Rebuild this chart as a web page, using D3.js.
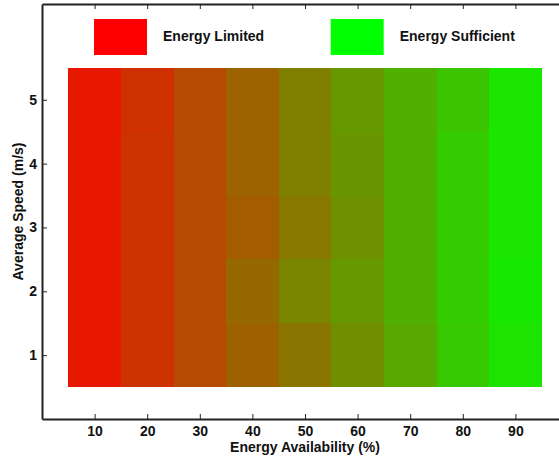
<!DOCTYPE html>
<html>
<head>
<meta charset="utf-8">
<script src="https://cdn.jsdelivr.net/npm/d3@7"></script>
<style>
  body { margin: 0; background: #fff; }
  svg { display: block; font-family: "Liberation Sans", Arial, sans-serif; font-weight: bold; }
</style>
</head>
<body>
<div id="chart"></div>
<script>
// Energy availability (%) along x, average speed (m/s) along y
var availability = [10, 20, 30, 40, 50, 60, 70, 80, 90];
var speeds = [1, 2, 3, 4, 5];

// fraction "energy sufficient" per cell, one row per speed (1..5)
var sufficiency = [
  [0.09, 0.20, 0.29, 0.38, 0.46, 0.56, 0.66, 0.79, 0.89],
  [0.09, 0.20, 0.29, 0.41, 0.52, 0.60, 0.69, 0.80, 0.91],
  [0.09, 0.20, 0.29, 0.36, 0.47, 0.57, 0.69, 0.80, 0.90],
  [0.09, 0.20, 0.29, 0.39, 0.50, 0.59, 0.69, 0.80, 0.90],
  [0.09, 0.19, 0.29, 0.39, 0.50, 0.60, 0.69, 0.77, 0.90]
];

var legendLabels = ["Energy Limited", "Energy Sufficient"];
var legendColors = ["#ff0000", "#00ff00"];

var chartWidth = 559, chartHeight = 460;
var margin = {top: 4, left: 42, bottom: 41};
var fontSize = "14px";

var xScale = d3.scaleLinear()
    .domain([0, 100])
    .range([margin.left, margin.left + 526]);

var yScale = d3.scaleLinear()
    .domain([0, 6.5])
    .range([chartHeight - margin.bottom, margin.top]);

var color = d3.scaleLinear()
    .domain([0, 1])
    .range(["#ff0000", "#00ff00"]);

var svg = d3.select("#chart").append("svg")
    .attr("width", chartWidth)
    .attr("height", chartHeight);

// flatten the grid into cells
var cells = [];
speeds.forEach(function(s, i) {
  availability.forEach(function(a, j) {
    cells.push({x: a, y: s, v: sufficiency[i][j]});
  });
});

svg.append("g").selectAll("rect")
  .data(cells)
  .enter().append("rect")
    .attr("x", function(d) { return xScale(d.x - 5); })
    .attr("y", function(d) { return yScale(d.y + 0.5); })
    .attr("width", function(d) { return xScale(d.x + 5) - xScale(d.x - 5); })
    .attr("height", function(d) { return yScale(d.y - 0.5) - yScale(d.y + 0.5); })
    .attr("fill", function(d) { return color(d.v); })
    .attr("shape-rendering", "crispEdges");

// axes, MATLAB style: ticks pointing inward
var y0 = yScale(0), yTop = yScale(6.5);

var xAxis = svg.append("g")
    .attr("transform", "translate(0," + y0 + ")")
    .call(d3.axisBottom(xScale).tickValues(availability).tickSizeInner(-5).tickSizeOuter(0).tickPadding(7));

var xAxisTop = svg.append("g")
    .attr("transform", "translate(0," + yTop + ")")
    .call(d3.axisTop(xScale).tickValues(availability).tickSizeInner(-5).tickSizeOuter(0).tickFormat(""));

var yAxis = svg.append("g")
    .attr("transform", "translate(" + xScale(0) + ",0)")
    .call(d3.axisLeft(yScale).tickValues(speeds).tickFormat(d3.format("d"))
      .tickSizeInner(-5).tickSizeOuter(0).tickPadding(5));

[xAxis, xAxisTop, yAxis].forEach(function(g) {
  g.select(".domain").attr("stroke", "#222").attr("stroke-width", 2);
  g.selectAll(".tick line").attr("stroke", "#222").attr("stroke-width", 1);
  g.selectAll(".tick text")
    .attr("fill", "#111")
    .style("font-size", fontSize)
    .style("font-weight", "bold")
    .style("font-family", "'Liberation Sans', Arial, sans-serif");
});

// axis titles
svg.append("text")
    .attr("x", xScale(50))
    .attr("y", 452)
    .attr("text-anchor", "middle")
    .style("font-size", fontSize)
    .attr("fill", "#111")
    .text("Energy Availability (%)");

svg.append("text")
    .attr("transform", "translate(23," + ((y0 + yTop) / 2) + ") rotate(-90)")
    .attr("text-anchor", "middle")
    .style("font-size", fontSize)
    .attr("fill", "#111")
    .text("Average Speed (m/s)");

// legend
var legend = svg.append("g").selectAll("g")
  .data(legendLabels)
  .enter().append("g")
    .attr("transform", function(d, i) { return "translate(" + (94 + i * 236.7) + ",19)"; });

legend.append("rect")
    .attr("width", 53)
    .attr("height", 36)
    .attr("fill", function(d, i) { return legendColors[i]; });

legend.append("text")
    .attr("x", 69)
    .attr("y", 22)
    .style("font-size", fontSize)
    .attr("fill", "#111")
    .text(function(d) { return d; });
</script>
</body>
</html>
